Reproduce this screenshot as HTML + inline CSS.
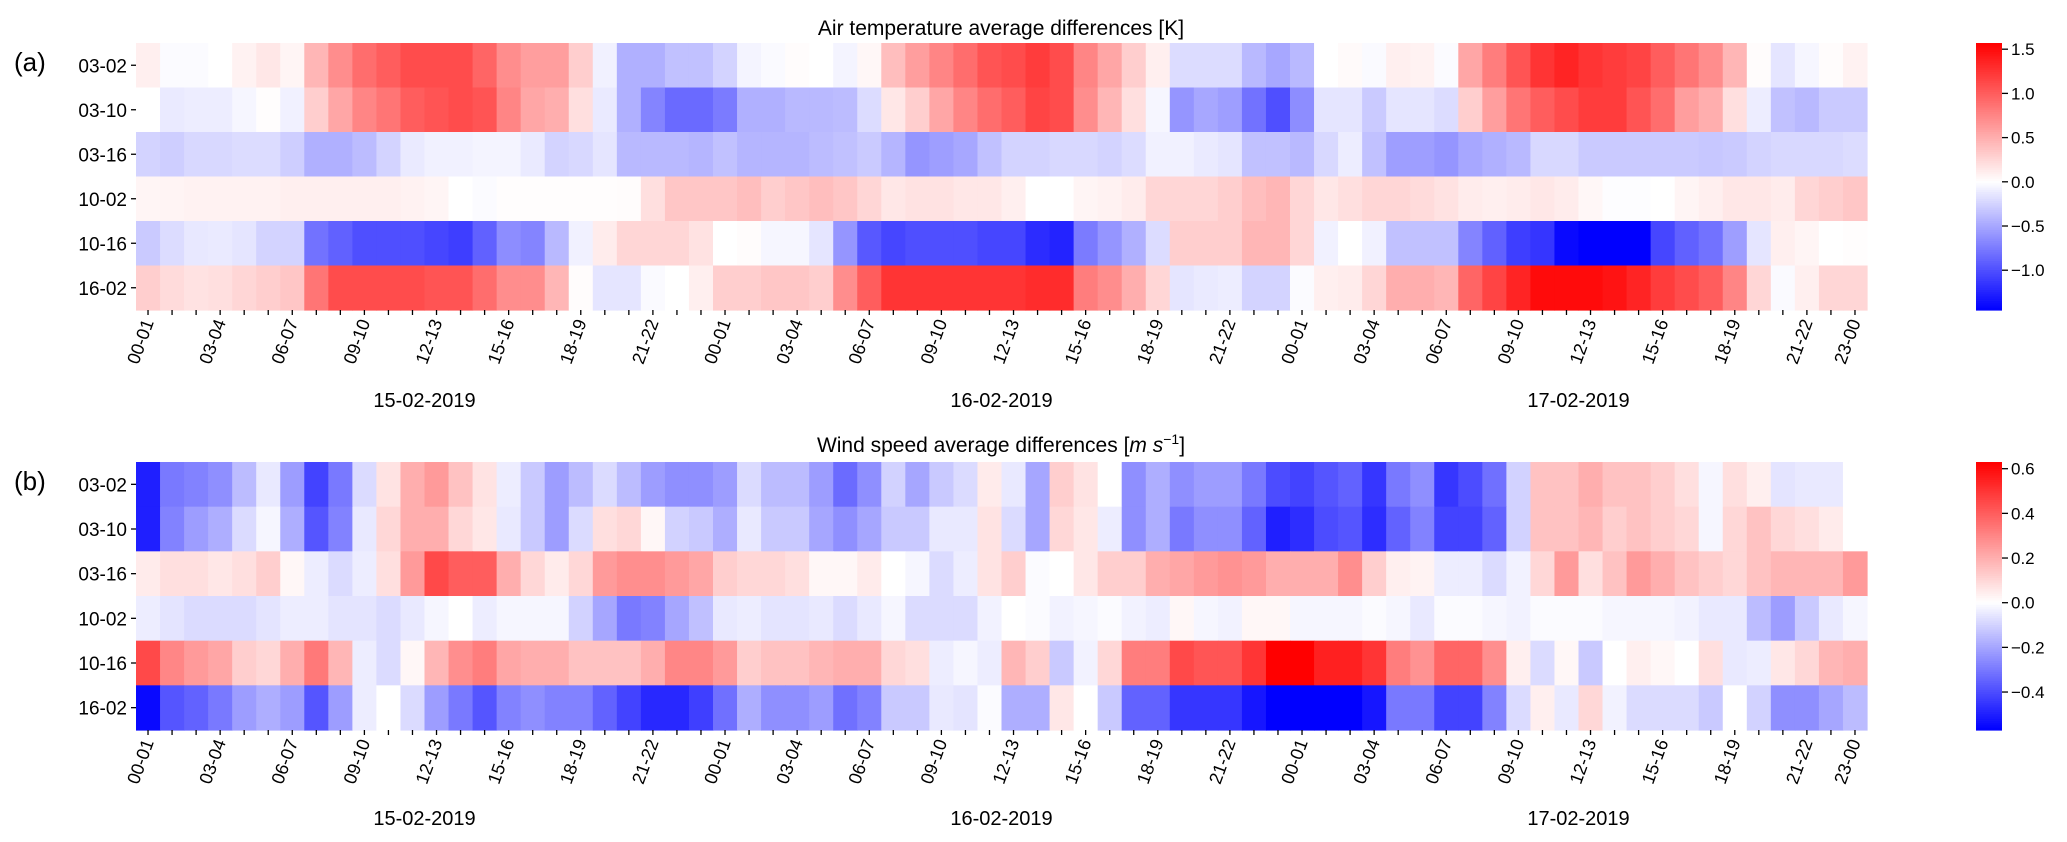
<!DOCTYPE html>
<html><head><meta charset="utf-8">
<style>
html,body{margin:0;padding:0;background:#fff;}
svg{display:block;font-family:"Liberation Sans",Arial,sans-serif;}
</style></head>
<body>
<svg id="fig" width="2067" height="842" viewBox="0 0 2067 842" xmlns="http://www.w3.org/2000/svg">
  <text x="1001" y="35" font-size="21" text-anchor="middle">Air temperature average differences [K]</text>
  <text x="1001" y="452" font-size="21" text-anchor="middle">Wind speed average differences  [<tspan font-style="italic">m s</tspan><tspan font-size="14" dy="-8">−1</tspan><tspan dy="8">]</tspan></text>
  <text x="14" y="71" font-size="26">(a)</text>
  <text x="14" y="490" font-size="26">(b)</text>
  <g id="panelA"></g>
  <g id="panelB"></g>
</svg>
<script>
const rows = ["03-02","03-10","03-16","10-02","10-16","16-02"];
const hourLabels = ["00-01","03-04","06-07","09-10","12-13","15-16","18-19","21-22"];
const days = ["15-02-2019","16-02-2019","17-02-2019"];
const tempTicks = [1.5,1.0,0.5,0.0,-0.5,-1.0];
const windTicks = [0.6,0.4,0.2,0.0,-0.2,-0.4];
const tempRange = [-1.45, 1.57];
const windRange = [-0.57, 0.63];

const temp0302 = [0.1,-0.02,-0.02,0,0.08,0.15,0.06,0.45,0.7,0.9,1.0,1.1,1.1,1.1,0.95,0.7,0.6,0.6,0.3,-0.08,-0.45,-0.45,-0.35,-0.35,-0.25,-0.06,-0.03,0.02,0,-0.06,0.05,0.4,0.6,0.75,0.9,1.05,1.1,1.2,1.1,0.75,0.55,0.3,0.1,-0.2,-0.2,-0.2,-0.4,-0.5,-0.4,0.0,0.03,-0.03,0.1,0.08,-0.02,0.55,0.8,1.05,1.25,1.35,1.25,1.2,1.15,1.0,0.85,0.7,0.45,0.02,-0.15,-0.05,0.02,0.08];
const temp0310 = [0,-0.12,-0.1,-0.1,-0.05,0.01,-0.08,0.3,0.55,0.75,0.85,1.0,1.05,1.1,1.05,0.75,0.55,0.5,0.2,-0.12,-0.45,-0.7,-0.85,-0.85,-0.75,-0.45,-0.45,-0.4,-0.4,-0.38,-0.2,0.15,0.3,0.55,0.75,0.9,1.0,1.15,1.1,0.7,0.45,0.2,-0.05,-0.6,-0.5,-0.55,-0.8,-1.0,-0.65,-0.15,-0.15,-0.3,-0.15,-0.15,-0.2,0.3,0.6,0.85,1.0,1.1,1.2,1.2,1.05,0.9,0.6,0.5,0.2,-0.1,-0.35,-0.4,-0.3,-0.3];
const temp0316 = [-0.25,-0.28,-0.22,-0.22,-0.2,-0.2,-0.28,-0.45,-0.45,-0.38,-0.25,-0.12,-0.08,-0.08,-0.06,-0.06,-0.12,-0.25,-0.22,-0.15,-0.4,-0.4,-0.4,-0.42,-0.35,-0.42,-0.42,-0.42,-0.38,-0.35,-0.3,-0.42,-0.6,-0.55,-0.5,-0.35,-0.25,-0.25,-0.22,-0.22,-0.25,-0.2,-0.08,-0.08,-0.12,-0.15,-0.35,-0.35,-0.4,-0.22,-0.1,-0.35,-0.55,-0.55,-0.6,-0.5,-0.45,-0.4,-0.22,-0.22,-0.3,-0.3,-0.3,-0.3,-0.3,-0.32,-0.3,-0.25,-0.22,-0.22,-0.22,-0.2];
const temp1002 = [0.06,0.07,0.08,0.08,0.08,0.08,0.1,0.1,0.1,0.1,0.1,0.08,0.06,0.0,-0.02,0.01,0.01,0.01,0.01,0.01,0.02,0.2,0.35,0.35,0.35,0.4,0.3,0.35,0.4,0.35,0.25,0.15,0.18,0.18,0.15,0.15,0.1,0.0,0.0,0.06,0.08,0.12,0.25,0.25,0.25,0.3,0.4,0.45,0.25,0.15,0.2,0.25,0.25,0.22,0.18,0.12,0.1,0.12,0.15,0.12,0.05,-0.01,-0.01,0.0,0.06,0.1,0.15,0.15,0.12,0.25,0.3,0.35];
const temp1016 = [-0.3,-0.2,-0.13,-0.12,-0.15,-0.25,-0.25,-0.8,-0.9,-1.0,-1.0,-1.0,-1.05,-1.1,-0.9,-0.65,-0.7,-0.4,-0.08,0.12,0.25,0.25,0.25,0.18,0.0,0.02,-0.05,-0.05,-0.15,-0.6,-0.95,-1.05,-1.0,-1.0,-1.0,-1.05,-1.05,-1.2,-1.25,-0.75,-0.6,-0.45,-0.2,0.3,0.3,0.3,0.45,0.45,0.25,-0.08,0.0,-0.08,-0.35,-0.35,-0.35,-0.7,-0.9,-1.1,-1.15,-1.4,-1.45,-1.45,-1.45,-1.05,-0.9,-0.8,-0.55,-0.15,0.1,0.06,0.0,0.01];
const temp1602 = [0.3,0.22,0.18,0.2,0.25,0.3,0.35,0.85,1.1,1.1,1.1,1.1,1.05,1.05,0.9,0.7,0.7,0.45,0.02,-0.15,-0.15,-0.03,0.0,0.1,0.3,0.3,0.35,0.35,0.3,0.7,1.0,1.25,1.25,1.25,1.25,1.25,1.25,1.3,1.3,0.8,0.7,0.5,0.25,-0.15,-0.12,-0.1,-0.25,-0.25,-0.02,0.1,0.12,0.25,0.5,0.5,0.45,0.95,1.15,1.35,1.5,1.5,1.5,1.45,1.35,1.2,1.1,1.0,0.75,0.25,-0.03,0.1,0.25,0.25];

const wind0302 = [-0.5,-0.3,-0.28,-0.25,-0.15,-0.05,-0.22,-0.42,-0.3,-0.08,0.07,0.2,0.25,0.15,0.07,-0.04,-0.12,-0.22,-0.15,-0.08,-0.15,-0.22,-0.25,-0.25,-0.22,-0.08,-0.15,-0.15,-0.22,-0.33,-0.25,-0.1,-0.2,-0.12,-0.08,0.05,-0.05,-0.2,0.12,0.07,0.0,-0.25,-0.18,-0.25,-0.22,-0.22,-0.3,-0.4,-0.42,-0.38,-0.35,-0.45,-0.3,-0.25,-0.45,-0.4,-0.32,-0.1,0.15,0.15,0.2,0.15,0.15,0.12,0.08,-0.02,0.08,0.04,-0.06,-0.05,-0.05,0.0];
const wind0310 = [-0.5,-0.28,-0.22,-0.18,-0.08,-0.02,-0.18,-0.38,-0.28,-0.05,0.1,0.2,0.2,0.1,0.06,-0.05,-0.12,-0.22,-0.08,0.08,0.1,0.02,-0.1,-0.12,-0.18,-0.05,-0.12,-0.12,-0.2,-0.25,-0.2,-0.12,-0.12,-0.05,-0.05,0.07,-0.08,-0.2,0.1,0.06,-0.04,-0.25,-0.18,-0.3,-0.25,-0.25,-0.35,-0.5,-0.47,-0.4,-0.38,-0.47,-0.35,-0.28,-0.42,-0.42,-0.35,-0.1,0.15,0.15,0.18,0.12,0.15,0.12,0.1,-0.02,0.1,0.15,0.1,0.08,0.05,0.0];
const wind0316 = [0.05,0.08,0.08,0.06,0.08,0.12,0.02,-0.04,-0.08,-0.04,0.08,0.25,0.45,0.4,0.4,0.2,0.1,0.05,0.1,0.25,0.28,0.28,0.25,0.22,0.12,0.1,0.1,0.08,0.02,0.02,0.05,0.0,-0.02,-0.08,-0.04,0.07,0.12,-0.01,0.0,0.06,0.12,0.12,0.2,0.22,0.25,0.27,0.25,0.2,0.2,0.2,0.28,0.12,0.04,0.03,-0.04,-0.04,-0.08,-0.03,0.1,0.25,0.08,0.15,0.25,0.2,0.15,0.12,0.1,0.15,0.18,0.18,0.18,0.25];
const wind1002 = [-0.04,-0.06,-0.08,-0.08,-0.08,-0.06,-0.04,-0.04,-0.06,-0.06,-0.08,-0.05,-0.02,0.0,-0.04,-0.02,-0.02,-0.02,-0.1,-0.2,-0.3,-0.28,-0.2,-0.14,-0.05,-0.04,-0.06,-0.06,-0.05,-0.08,-0.05,-0.02,-0.08,-0.08,-0.08,-0.03,0.0,-0.01,-0.03,-0.02,-0.01,-0.03,-0.04,0.02,-0.02,-0.03,0.02,0.02,-0.02,-0.02,-0.02,-0.01,-0.02,-0.05,-0.01,-0.01,-0.02,-0.03,-0.01,-0.01,-0.01,-0.02,-0.02,-0.02,-0.03,-0.05,-0.05,-0.15,-0.22,-0.12,-0.05,-0.02];
const wind1016 = [0.45,0.3,0.25,0.22,0.12,0.1,0.2,0.33,0.18,-0.04,-0.08,0.02,0.18,0.28,0.32,0.22,0.2,0.2,0.15,0.15,0.15,0.2,0.3,0.3,0.25,0.12,0.15,0.15,0.18,0.2,0.2,0.1,0.08,-0.04,-0.02,-0.04,0.18,0.12,-0.12,-0.03,0.1,0.32,0.32,0.45,0.42,0.42,0.5,0.63,0.63,0.55,0.55,0.5,0.32,0.27,0.38,0.38,0.28,0.04,-0.08,0.02,-0.12,0.0,0.04,0.02,0.0,0.08,-0.05,-0.04,0.06,0.1,0.18,0.2];
const wind1602 = [-0.55,-0.38,-0.35,-0.3,-0.22,-0.18,-0.22,-0.38,-0.22,-0.04,0.0,-0.08,-0.22,-0.3,-0.38,-0.28,-0.25,-0.28,-0.28,-0.35,-0.42,-0.48,-0.48,-0.43,-0.32,-0.18,-0.25,-0.25,-0.22,-0.32,-0.28,-0.12,-0.12,-0.05,-0.06,-0.01,-0.18,-0.18,0.06,0.0,-0.12,-0.35,-0.35,-0.45,-0.45,-0.45,-0.52,-0.57,-0.57,-0.57,-0.57,-0.52,-0.3,-0.3,-0.42,-0.42,-0.28,-0.08,0.04,-0.05,0.1,-0.03,-0.08,-0.08,-0.08,-0.12,0.0,-0.1,-0.25,-0.25,-0.2,-0.15];

const tempSeries = [temp0302,temp0310,temp0316,temp1002,temp1016,temp1602];
const windSeries = [wind0302,wind0310,wind0316,wind1002,wind1016,wind1602];

const NS = "http://www.w3.org/2000/svg";
function mk(tag, attrs, parent){
  const e = document.createElementNS(NS, tag);
  for (const k in attrs) e.setAttribute(k, attrs[k]);
  parent.appendChild(e);
  return e;
}
function colorFor(v, range){
  let r,g,b;
  if (v >= 0){ const t = Math.min(v/range[1],1); r=255; g=b=Math.round(255*(1-t)); }
  else { const t = Math.min(v/range[0],1); r=g=Math.round(255*(1-t)); b=255; }
  return `rgb(${r},${g},${b})`;
}
const X0 = 136, X1 = 1867, NCOL = 72;
const CW = (X1 - X0) / NCOL;
function xScale(i){ return X0 + i*CW; }

function drawPanel(g, series, range, ticks, top, bottom, dateY){
  const RH = (bottom - top) / rows.length;
  const yScale = r => top + r*RH;
  series.forEach((arr, r) => {
    arr.forEach((v, c) => {
      const rect = mk("rect", {x: xScale(c).toFixed(2), y: yScale(r).toFixed(2), width: (CW+0.6).toFixed(2), height: (RH+0.6).toFixed(2), fill: colorFor(v, range)}, g);
      
      
    });
  });
  rows.forEach((lab, r) => {
    const cy = yScale(r) + RH/2;
    const tk = mk("line", {x1: X0-5, x2: X0, y1: cy, y2: cy, stroke: "#000", "stroke-width": 1.3}, g);
    
    
    const t = mk("text", {x: X0-9, y: cy+7, "font-size": 19, "text-anchor": "end"}, g);
    t.textContent = lab;
    
    
  });
  for (let c = 0; c < NCOL; c++){
    const cx = xScale(c) + CW/2;
    const tk = mk("line", {x1: cx, x2: cx, y1: bottom, y2: bottom+5, stroke: "#000", "stroke-width": 1.3}, g);
    
    
    const h = c % 24;
    let lab = null;
    if (h % 3 === 0) lab = hourLabels[h/3];
    if (c === NCOL-1) lab = "23-00";
    if (lab){
      const t = mk("text", {x: 0, y: 0, "font-size": 18, "text-anchor": "end", transform: `translate(${cx+6},${bottom+12}) rotate(-70)`}, g);
      t.textContent = lab;
      
      
    }
  }
  days.forEach((d, i) => {
    const t = mk("text", {x: xScale(i*24 + 12), y: dateY, "font-size": 20, "text-anchor": "middle"}, g);
    t.textContent = d;
    
    
  });
  // colorbar
  const CX0 = 1976, CX1 = 2002;
  const cbY = v => top + (range[1]-v)/(range[1]-range[0])*(bottom-top);
  const steps = 120;
  for (let s = 0; s < steps; s++){
    const v0 = range[1] - s*(range[1]-range[0])/steps;
    const v1 = range[1] - (s+1)*(range[1]-range[0])/steps;
    const seg = mk("rect", {x: CX0, y: cbY(v0).toFixed(2), width: CX1-CX0, height: (cbY(v1)-cbY(v0)+0.6).toFixed(2), fill: colorFor((v0+v1)/2, range)}, g);
    
    
  }
  ticks.forEach(v => {
    const y = cbY(v);
    const tk = mk("line", {x1: CX1, x2: CX1+6, y1: y, y2: y, stroke: "#000", "stroke-width": 1.3}, g);
    
    
    const t = mk("text", {x: CX1+9, y: y+6, "font-size": 17}, g);
    t.textContent = (v < 0 ? "\u2212" : "") + Math.abs(v).toFixed(1);
    
    
  });
}
drawPanel(document.getElementById("panelA"), tempSeries, tempRange, tempTicks, 43, 310, 407);
drawPanel(document.getElementById("panelB"), windSeries, windRange, windTicks, 462, 730, 825);
</script>
</body></html>
